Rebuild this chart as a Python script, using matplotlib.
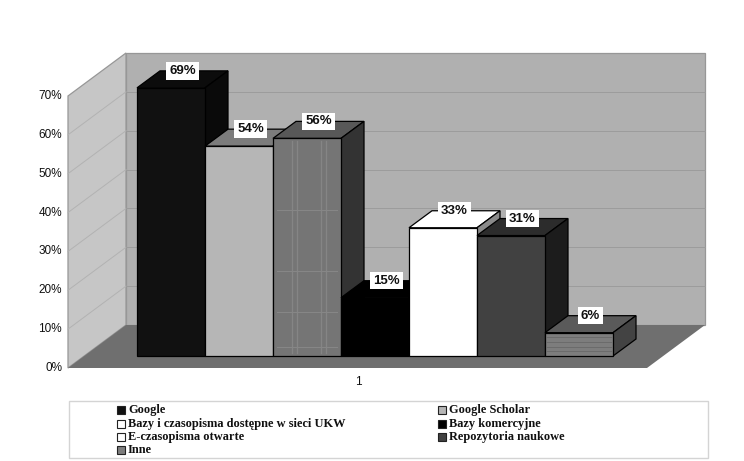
import matplotlib

matplotlib.use("Agg")
import matplotlib.pyplot as plt
from matplotlib.patches import Polygon, Rectangle

W, H = 744, 461

names = ["Google", "Google Scholar", "Bazy i czasopisma dostępne w sieci UKW", "Bazy komercyjne",
         "E-czasopisma otwarte", "Repozytoria naukowe", "Inne"]
values = [69, 54, 56, 15, 33, 31, 6]
axis_ticks = [0, 10, 20, 30, 40, 50, 60, 70]
category = "1"

face_colors = ["#111111", "#b6b6b6", "#757575", "#000000", "#ffffff", "#414141", "#7d7d7d"]
top_colors = ["#0c0c0c", "#7c7c7c", "#585858", "#000000", "#ffffff", "#2c2c2c", "#5a5a5a"]
side_colors = ["#0a0a0a", "#666666", "#333333", "#000000", "#8a8a8a", "#1c1c1c", "#434343"]
legend_colors = ["#111111", "#b6b6b6", "#ffffff", "#000000", "#ffffff", "#414141", "#7d7d7d"]

PX = 3.886  # px per percent
DX, DY = 23, 17  # bar depth
WALL_DX, WALL_DY = 58, 43
X0, Y0 = 68, 368  # front-left corner of the floor
FLOOR_W = 579
BAR_X, BAR_Y, BAR_W = 137, 356, 68

fig = plt.figure(figsize=(W / 100, H / 100), dpi=100)
ax = fig.add_axes([0, 0, 1, 1])
ax.set_xlim(0, W)
ax.set_ylim(H, 0)
ax.axis("off")

sans = ["Liberation Sans", "DejaVu Sans"]
serif = ["Liberation Serif", "DejaVu Serif"]


def poly(points, fc, ec="none", lw=0.8, z=1):
    ax.add_patch(Polygon(points, closed=True, fc=fc, ec=ec, lw=lw, zorder=z))


top = axis_ticks[-1] * PX
bx, by = X0 + WALL_DX, Y0 - WALL_DY

# walls and floor
poly([(bx, by), (bx + FLOOR_W, by), (bx + FLOOR_W, by - top), (bx, by - top)], "#b0b0b0", "#979797", 0.9)
poly([(X0, Y0), (bx, by), (bx, by - top), (X0, Y0 - top)], "#c6c6c6", "#979797", 0.9)
poly([(X0, Y0), (X0 + FLOOR_W, Y0), (bx + FLOOR_W, by), (bx, by)], "#6f6f6f")

# gridlines
for t in axis_ticks[1:-1]:
    off = t * PX
    ax.plot([X0, bx], [Y0 - off, by - off], color="#b2b2b2", lw=0.7, zorder=2)
    ax.plot([bx, bx + FLOOR_W], [by - off, by - off], color="#9c9c9c", lw=0.7, zorder=2)

for t in axis_ticks:
    ax.text(62, Y0 - t * PX, f"{t}%", ha="right", va="center", fontsize=8.5, family=sans,
            color="#111111", fontweight="medium")
ax.text(358, 382, category, ha="center", va="center", fontsize=8.5, family=sans, color="#111111")

# bars, left to right so each one covers the side of the previous one
for i, v in enumerate(values):
    x = BAR_X + i * BAR_W
    y = BAR_Y - v * PX
    z = 3 + i
    ec = "#000000"
    poly([(x, y), (x + BAR_W, y), (x + BAR_W + DX, y - DY), (x + DX, y - DY)], top_colors[i], ec, 0.9, z)
    poly([(x + BAR_W, y), (x + BAR_W + DX, y - DY), (x + BAR_W + DX, BAR_Y - DY), (x + BAR_W, BAR_Y)],
         side_colors[i], ec, 0.9, z)
    poly([(x, y), (x + BAR_W, y), (x + BAR_W, BAR_Y), (x, BAR_Y)], face_colors[i], ec, 0.9, z)

# the scanned fill patterns on two of the bars
x3 = BAR_X + 2 * BAR_W
y3 = BAR_Y - values[2] * PX
for frac in (0.28, 0.36, 0.7, 0.78):
    ax.plot([x3 + frac * BAR_W] * 2, [y3 + 3, BAR_Y - 3], color="#858585", lw=0.9, zorder=5)
for frac in (0.33, 0.61, 0.8, 0.96):
    ax.plot([x3 + 4, x3 + BAR_W - 4], [y3 + frac * (BAR_Y - y3)] * 2, color="#878787", lw=0.7, zorder=5)
x7 = BAR_X + 6 * BAR_W
y7 = BAR_Y - values[6] * PX
for frac in (0.2, 0.4, 0.6, 0.8):
    ax.plot([x7 + 1, x7 + BAR_W - 1], [y7 + frac * (BAR_Y - y7)] * 2, color="#6b6b6b", lw=0.7, zorder=9)

# value labels
for i, v in enumerate(values):
    ax.text(BAR_X + i * BAR_W + BAR_W / 2 + DX / 2, BAR_Y - v * PX - DY, f"{v}%", ha="center", va="center",
            fontsize=9.5, family=sans, fontweight="bold", color="#111111", zorder=20,
            bbox=dict(fc="white", ec="none", pad=2))

# legend
ax.add_patch(Rectangle((69, 401), 639, 57, fc="white", ec="#d4d4d4", lw=1.0, zorder=1))
col_x = [117, 438]
row_y = [410, 423.5, 437, 450]
for i, name in enumerate(names):
    sx = col_x[i % 2]
    sy = row_y[i // 2]
    ax.add_patch(Rectangle((sx, sy - 4), 8, 8, fc=legend_colors[i], ec="#222222", lw=0.8, zorder=2))
    ax.text(sx + 11, sy, name, ha="left", va="center", fontsize=8.9, family=serif, fontweight="bold",
            color="#111111", zorder=2)

fig.savefig("out.png", dpi=100, facecolor="white")
